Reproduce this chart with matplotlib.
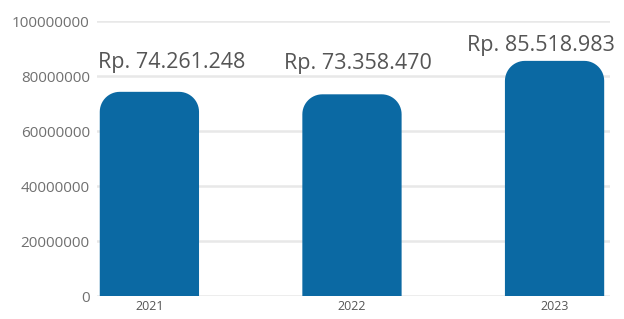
import numpy as np
import matplotlib.pyplot as plt
from matplotlib.patches import PathPatch
from matplotlib.path import Path

# data
years = ['2021', '2022', '2023']
values = [74261248, 73358470, 85518983]
labels = ['Rp. 74.261.248', 'Rp. 73.358.470', 'Rp. 85.518.983']
# label shift (points) from the bar top centre
label_dx = [16, 4, -10]
label_dy = [17, 18, 7]

bar_color = '#0b69a3'
bar_w = 0.49

fig = plt.figure(figsize=(6.24, 3.19), dpi=100)
ax = fig.add_axes([0.155, 0.072, 0.823, 0.862])

x = np.arange(len(years))
xmin, xmax = -0.26, 2.275
ax.set_xlim(xmin, xmax)
ax.set_ylim(0, 100000000)

# data units per pixel, so the round corners stay circular
bbox = ax.get_window_extent()
r_px = 20
rx = r_px * (xmax - xmin) / bbox.width
ry = r_px * 100000000 / bbox.height


def rounded_bar(cx, h):
    l, r = cx - bar_w / 2, cx + bar_w / 2
    t = np.linspace(np.pi, np.pi / 2, 15)
    left_arc = list(zip(l + rx + rx * np.cos(t), h - ry + ry * np.sin(t)))
    t = np.linspace(np.pi / 2, 0, 15)
    right_arc = list(zip(r - rx + rx * np.cos(t), h - ry + ry * np.sin(t)))
    pts = [(l, 0)] + left_arc + right_arc + [(r, 0), (l, 0)]
    codes = [Path.MOVETO] + [Path.LINETO] * (len(pts) - 2) + [Path.CLOSEPOLY]
    return Path(pts, codes)


for i, v in enumerate(values):
    ax.add_patch(PathPatch(rounded_bar(x[i], v), fc=bar_color, ec='none', zorder=3))
    ax.annotate(labels[i], (x[i], v), xytext=(label_dx[i], label_dy[i]),
                textcoords='offset points', ha='center', va='baseline',
                fontsize=15.5, color='#555555', family='Open Sans')

ax.set_xticks(x)
ax.set_xticklabels(years, fontsize=9, color='#555555', family='Open Sans')
ax.set_yticks(np.arange(0, 100000001, 20000000))
ax.set_yticklabels([str(t) for t in range(0, 100000001, 20000000)],
                   fontsize=11, color='#707070', family='Open Sans')
ax.tick_params(length=0, pad=5)
ax.tick_params(axis='x', pad=3)
ax.grid(axis='y', color='#e8e8e8', linewidth=1.8, zorder=0)
for s in ax.spines.values():
    s.set_visible(False)

fig.savefig('out.png', dpi=100)
